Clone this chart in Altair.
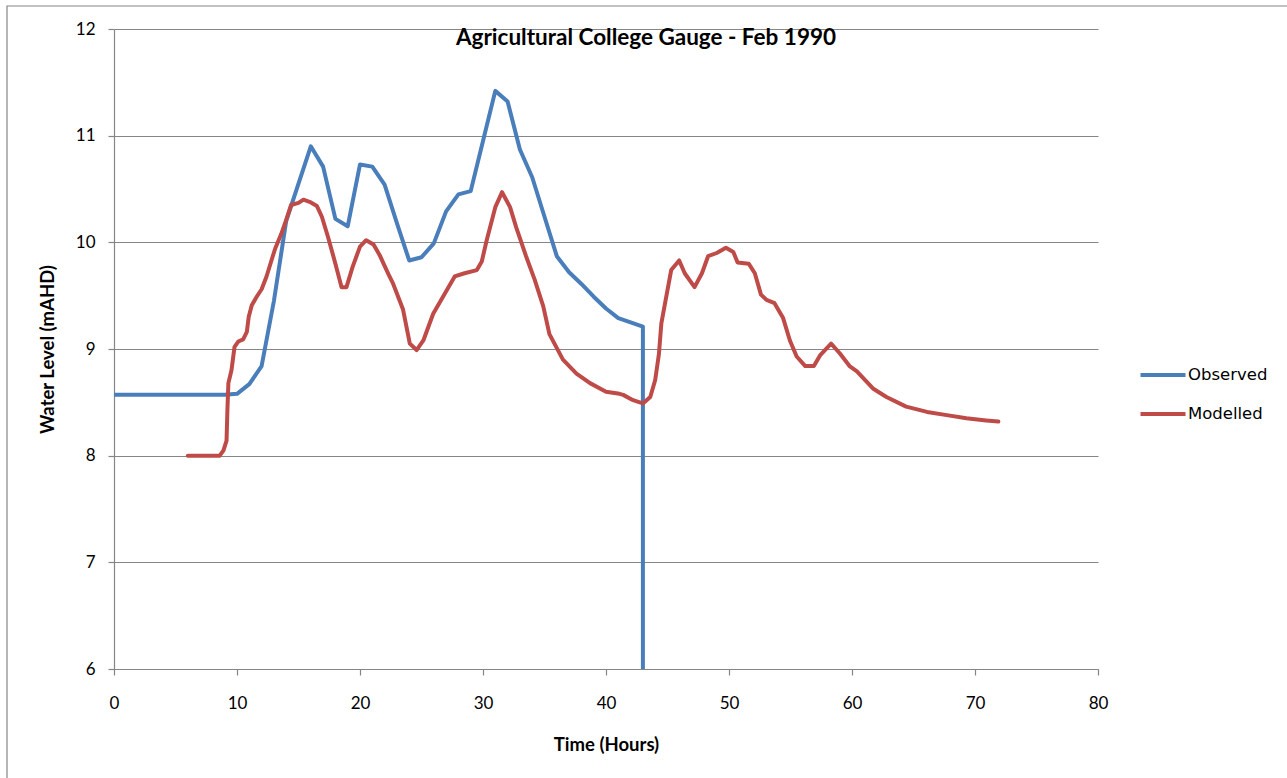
import altair as alt
import pandas as pd

# Observed gauge readings (hourly), with the gauge dropping out at hour 43
obs_hours = [0, 1, 2, 3, 4, 5, 6, 7, 8, 9, 10, 11, 12, 13, 14, 15, 16, 17, 18, 19,
             20, 21, 22, 23, 24, 25, 26, 27, 28, 29, 30, 31, 32, 33, 34, 35, 36,
             37, 38, 39, 40, 41, 42, 43, 43]
obs_level = [8.57, 8.57, 8.57, 8.57, 8.57, 8.57, 8.57, 8.57, 8.57, 8.57, 8.58,
             8.67, 8.84, 9.45, 10.20, 10.55, 10.90, 10.71, 10.22, 10.15, 10.73,
             10.71, 10.54, 10.18, 9.83, 9.86, 9.99, 10.29, 10.45, 10.48, 10.95,
             11.42, 11.32, 10.87, 10.61, 10.24, 9.87, 9.72, 9.61, 9.49, 9.38,
             9.29, 9.25, 9.21, 6.00]

# Modelled water level
mod_hours = [6.0, 7.0, 8.0, 8.6, 8.9, 9.15, 9.22, 9.3, 9.55, 9.8, 10.1, 10.5,
             10.8, 10.95, 11.2, 11.6, 12.0, 12.4, 12.8, 13.1, 13.6, 14.0, 14.4,
             15.0, 15.4, 15.9, 16.5, 16.9, 17.4, 18.0, 18.5, 18.9, 19.4, 20.0,
             20.5, 21.1, 21.6, 22.0, 22.4, 22.7, 23.1, 23.5, 24.05, 24.6, 25.15,
             25.95, 26.9, 27.7, 28.5, 29.5, 29.9, 30.3, 31.0, 31.55, 32.2, 32.7,
             33.5, 34.2, 34.9, 35.4, 36.5, 37.6, 38.7, 40.0, 41.1, 41.4, 42.2,
             43.0, 43.6, 44.0, 44.3, 44.5, 44.9, 45.3, 45.95, 46.4, 47.2, 47.8,
             48.3, 49.0, 49.75, 50.35, 50.7, 51.6, 52.1, 52.6, 53.05, 53.7, 54.4,
             54.95, 55.5, 56.2, 56.9, 57.4, 58.3, 59.0, 59.8, 60.4, 61.7, 62.8,
             64.4, 66.1, 67.7, 69.3, 70.9, 71.9]
mod_level = [8.00, 8.00, 8.00, 8.00, 8.05, 8.14, 8.43, 8.68, 8.80, 9.02, 9.07,
             9.09, 9.16, 9.30, 9.41, 9.49, 9.56, 9.68, 9.83, 9.94, 10.08, 10.21,
             10.35, 10.37, 10.40, 10.38, 10.34, 10.24, 10.05, 9.80, 9.58, 9.58,
             9.77, 9.96, 10.02, 9.98, 9.88, 9.78, 9.68, 9.61, 9.49, 9.37, 9.05,
             8.99, 9.08, 9.33, 9.52, 9.68, 9.71, 9.74, 9.82, 10.02, 10.33, 10.47,
             10.33, 10.14, 9.87, 9.65, 9.40, 9.14, 8.90, 8.77, 8.68, 8.60, 8.58,
             8.57, 8.52, 8.49, 8.55, 8.71, 8.95, 9.24, 9.49, 9.74, 9.83, 9.71,
             9.58, 9.71, 9.87, 9.90, 9.95, 9.91, 9.81, 9.80, 9.71, 9.51, 9.46,
             9.43, 9.29, 9.08, 8.93, 8.84, 8.84, 8.94, 9.05, 8.96, 8.84, 8.79,
             8.63, 8.55, 8.46, 8.41, 8.38, 8.35, 8.33, 8.32]

series_names = ["Observed", "Modelled"]
series_colors = ["#4A7EBB", "#BE4B48"]
x_ticks = [0, 10, 20, 30, 40, 50, 60, 70, 80]
y_ticks = [6, 7, 8, 9, 10, 11, 12]

obs = pd.DataFrame({"hours": obs_hours, "level": obs_level, "series": "Observed"})
obs["idx"] = range(len(obs))
mod = pd.DataFrame({"hours": mod_hours, "level": mod_level, "series": "Modelled"})
mod["idx"] = range(len(mod))
df = pd.concat([obs, mod], ignore_index=True)

GRID = "#868686"

lines = alt.Chart(df).mark_line(
    strokeWidth=4, strokeJoin="round", strokeCap="round", clip=True
).encode(
    x=alt.X(
        "hours:Q",
        scale=alt.Scale(domain=[0, 80], nice=False, zero=False),
        axis=alt.Axis(
            values=x_ticks, grid=False, title="Time (Hours)", labelFlush=False,
            titleX=492, titleY=75, titleBaseline="middle",
        ),
    ),
    y=alt.Y(
        "level:Q",
        scale=alt.Scale(domain=[6, 12], nice=False, zero=False),
        axis=alt.Axis(
            values=y_ticks, grid=True, title="Water Level (mAHD)", labelFlush=False,
            titleX=-67, titleY=320, titleBaseline="middle",
        ),
    ),
    color=alt.Color(
        "series:N",
        scale=alt.Scale(domain=series_names, range=series_colors),
        legend=alt.Legend(
            title=None, orient="none", legendX=1024, legendY=321,
            symbolType="stroke", symbolSize=2025, symbolStrokeWidth=4.2,
            labelFont="DejaVu Sans", labelFontSize=16.5, labelColor="#000000",
            labelOffset=0, rowPadding=5, padding=0,
        ),
    ),
    detail="series:N",
    order=alt.Order("idx:Q"),
)

# Outer chart frame
frame = alt.Chart(pd.DataFrame({"f": [0]})).mark_rect(
    filled=False, stroke=GRID, strokeWidth=1.2
).encode(
    x=alt.value(-107), x2=alt.value(1185),
    y=alt.value(-23), y2=alt.value(770),
)

chart = alt.layer(frame, lines).properties(
    width=984, height=640,
    padding={"left": 114, "top": 29, "right": 189, "bottom": 109},
    autosize=alt.AutoSizeParams(type="none"),
    background="#ffffff",
    title=alt.TitleParams(
        "Agricultural College Gauge - Feb 1990",
        font="Lato", fontSize=22.5, fontWeight="bold", color="#000000",
        anchor="middle", dy=48, dx=40,
    ),
).configure_view(
    stroke=None
).configure_axis(
    domainColor=GRID, domainWidth=1.2,
    tickColor=GRID, tickSize=6, tickWidth=1.2,
    gridColor=GRID, gridWidth=1.2, gridOpacity=1,
    labelFont="Lato", labelFontSize=17, labelColor="#000000",
    titleFont="Lato", titleFontSize=18.5, titleFontWeight="bold", titleColor="#000000",
).configure_axisX(
    labelPadding=20,
).configure_axisY(
    labelPadding=13,
)

chart.save("out.html", embed_options={"renderer": "svg", "actions": False})
